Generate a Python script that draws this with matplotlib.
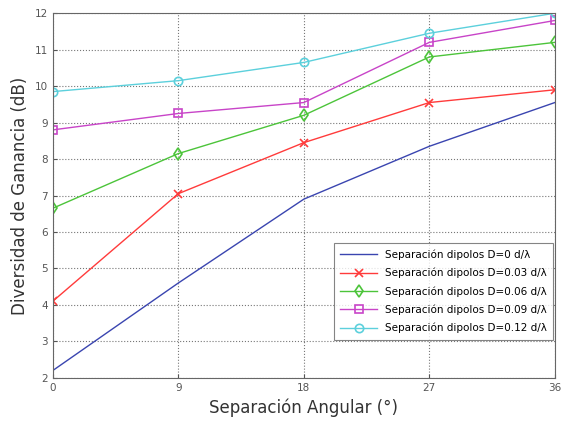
import numpy as np
import matplotlib
matplotlib.use("Agg")
from matplotlib import pyplot

# separacion angular (grados) y diversidad de ganancia (dB)
angulos = [0, 9, 18, 27, 36]
div_d000 = [2.2, 4.6, 6.9, 8.35, 9.55]
div_d003 = [4.1, 7.05, 8.45, 9.55, 9.9]
div_d006 = [6.65, 8.15, 9.2, 10.8, 11.2]
div_d009 = [8.8, 9.25, 9.55, 11.2, 11.8]
div_d012 = [9.85, 10.15, 10.65, 11.45, 12.0]

etiquetas = [
    "Separación dipolos D=0 d/λ",
    "Separación dipolos D=0.03 d/λ",
    "Separación dipolos D=0.06 d/λ",
    "Separación dipolos D=0.09 d/λ",
    "Separación dipolos D=0.12 d/λ",
]

fig = pyplot.figure(figsize=(5.61, 4.26), dpi=100)
ax = fig.add_axes([0.094, 0.113, 0.895, 0.856])

series = [div_d000, div_d003, div_d006, div_d009, div_d012]
colores = ["#3a45b0", "#ff3b3b", "#4cc43a", "#c844c8", "#5cd0dc"]
marcas = [None, "x", "d", "s", "o"]
for y, c, m, lab in zip(series, colores, marcas, etiquetas):
    ax.plot(angulos, y, color=c, lw=1.0, marker=m, markersize=6,
            markerfacecolor="none", markeredgecolor=c, markeredgewidth=1.2,
            label=lab)

ax.set_xlim(0, 36)
ax.set_ylim(2, 12)
ax.set_xticks(angulos)
ax.set_yticks(range(2, 13))
ax.tick_params(labelsize=7.5, colors="#555555", direction="in", length=3)
ax.grid(True, linestyle=":", color="#777777", linewidth=0.8)
for s in ax.spines.values():
    s.set_color("#666666")

ax.set_xlabel("Separación Angular (°)", fontsize=12, color="#333333")
ax.set_ylabel("Diversidad de Ganancia (dB)", fontsize=12, color="#333333")

leg = ax.legend(loc="lower right", bbox_to_anchor=(0.997, 0.105),
                fontsize=7.5, frameon=True, fancybox=False,
                borderaxespad=0.0, handlelength=3.5, labelspacing=0.75,
                borderpad=0.6)
leg.get_frame().set_edgecolor("#666666")
leg.get_frame().set_linewidth(0.8)

fig.savefig("out.png", dpi=100)
